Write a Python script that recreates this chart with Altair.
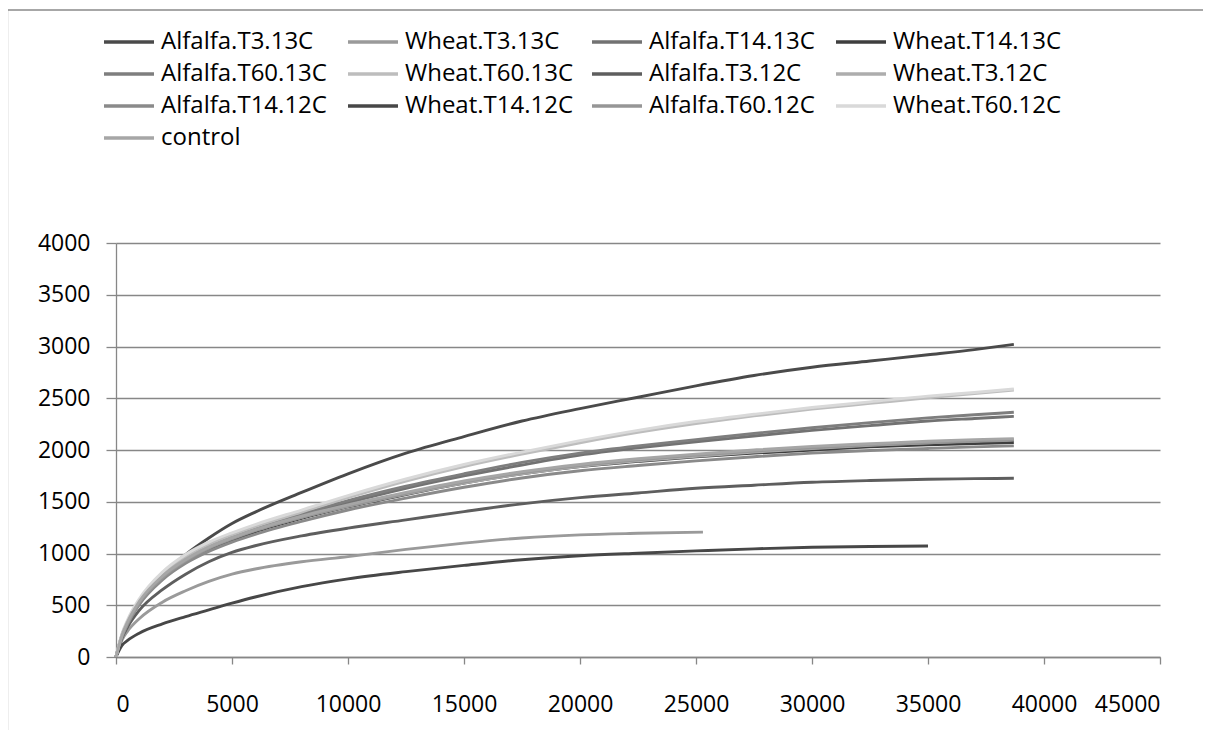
import altair as alt
import pandas as pd

# ---- data ----
series = ["Alfalfa.T3.13C", "Wheat.T3.13C", "Alfalfa.T14.13C", "Wheat.T14.13C",
          "Alfalfa.T60.13C", "Wheat.T60.13C", "Alfalfa.T3.12C", "Wheat.T3.12C",
          "Alfalfa.T14.12C", "Wheat.T14.12C", "Alfalfa.T60.12C", "Wheat.T60.12C",
          "control"]

colors = ["#4a4a4a", "#9a9a9a", "#727272", "#3e3e3e",
          "#7e7e7e", "#bdbdbd", "#5e5e5e", "#adadad",
          "#8a8a8a", "#474747", "#969696", "#d9d9d9",
          "#a6a6a6"]

x_full = [0, 250, 500, 1000, 2000, 3000, 4000, 5000, 6000, 8000, 10000, 12500,
          15000, 17500, 20000, 22500, 25000, 27500, 30000, 32500, 35000, 37000, 38700]
x_wheat_t3_13 = [0, 250, 500, 1000, 2000, 3000, 4000, 5000, 6000, 8000, 10000,
                 12500, 15000, 17500, 20000, 22500, 25300]
x_wheat_t14_12 = [0, 250, 500, 1000, 2000, 3000, 4000, 5000, 6000, 8000, 10000,
                  12500, 15000, 17500, 20000, 22500, 25000, 27500, 30000, 32500, 35000]

alfalfa_t3_13 = [0, 190, 320, 520, 800, 990, 1150, 1290, 1400, 1590, 1770, 1970,
                 2130, 2280, 2400, 2510, 2620, 2720, 2800, 2860, 2920, 2970, 3020]
wheat_t3_13 = [0, 160, 250, 370, 530, 640, 730, 800, 850, 920, 970, 1040,
               1100, 1150, 1180, 1195, 1207]
alfalfa_t14_13 = [0, 200, 330, 525, 770, 935, 1055, 1145, 1225, 1365, 1490, 1630,
                  1750, 1855, 1950, 2020, 2080, 2135, 2190, 2235, 2280, 2305, 2325]
wheat_t14_13 = [0, 200, 330, 520, 760, 920, 1040, 1130, 1210, 1340, 1450, 1570,
                1680, 1770, 1840, 1890, 1935, 1970, 2000, 2030, 2050, 2062, 2072]
alfalfa_t60_13 = [0, 205, 340, 535, 785, 950, 1070, 1160, 1240, 1380, 1510, 1650,
                  1770, 1880, 1970, 2040, 2100, 2160, 2215, 2265, 2310, 2340, 2365]
wheat_t60_13 = [0, 210, 345, 545, 800, 970, 1090, 1180, 1260, 1400, 1540, 1700,
                1840, 1960, 2070, 2170, 2255, 2330, 2395, 2450, 2505, 2545, 2580]
alfalfa_t3_12 = [0, 180, 290, 450, 650, 800, 920, 1010, 1075, 1170, 1245, 1325,
                 1405, 1480, 1540, 1585, 1630, 1660, 1688, 1705, 1717, 1723, 1727]
wheat_t3_12 = [0, 210, 345, 540, 785, 945, 1060, 1150, 1225, 1350, 1455, 1575,
               1680, 1770, 1840, 1895, 1940, 1980, 2015, 2045, 2070, 2088, 2100]
alfalfa_t14_12 = [0, 190, 315, 505, 745, 905, 1020, 1110, 1185, 1310, 1420, 1535,
                  1640, 1730, 1800, 1850, 1895, 1935, 1970, 1995, 2015, 2030, 2040]
wheat_t14_12 = [0, 110, 160, 230, 320, 390, 455, 520, 580, 680, 755, 825,
                885, 940, 978, 1003, 1025, 1045, 1060, 1068, 1072]
alfalfa_t60_12 = [0, 195, 325, 520, 765, 930, 1050, 1140, 1220, 1350, 1460, 1580,
                  1690, 1780, 1850, 1905, 1950, 1990, 2020, 2050, 2070, 2085, 2095]
wheat_t60_12 = [0, 220, 360, 560, 820, 990, 1110, 1200, 1280, 1420, 1560, 1720,
                1860, 1980, 2090, 2190, 2275, 2345, 2410, 2465, 2520, 2555, 2590]
control = [0, 205, 340, 535, 780, 940, 1060, 1150, 1230, 1360, 1470, 1590,
           1700, 1790, 1860, 1915, 1960, 2000, 2035, 2060, 2085, 2100, 2110]

y_ticks = [0, 500, 1000, 1500, 2000, 2500, 3000, 3500, 4000]
x_ticks = [0, 5000, 10000, 15000, 20000, 25000, 30000, 35000, 40000, 45000]

values_by_series = {
    "Alfalfa.T3.13C": (x_full, alfalfa_t3_13),
    "Wheat.T3.13C": (x_wheat_t3_13, wheat_t3_13),
    "Alfalfa.T14.13C": (x_full, alfalfa_t14_13),
    "Wheat.T14.13C": (x_full, wheat_t14_13),
    "Alfalfa.T60.13C": (x_full, alfalfa_t60_13),
    "Wheat.T60.13C": (x_full, wheat_t60_13),
    "Alfalfa.T3.12C": (x_full, alfalfa_t3_12),
    "Wheat.T3.12C": (x_full, wheat_t3_12),
    "Alfalfa.T14.12C": (x_full, alfalfa_t14_12),
    "Wheat.T14.12C": (x_wheat_t14_12, wheat_t14_12),
    "Alfalfa.T60.12C": (x_full, alfalfa_t60_12),
    "Wheat.T60.12C": (x_full, wheat_t60_12),
    "control": (x_full, control),
}

rows = []
for i, name in enumerate(series):
    xs, ys = values_by_series[name]
    for xv, yv in zip(xs, ys):
        rows.append({"series": name, "order": i, "x": xv, "y": yv})
df = pd.DataFrame(rows)

FONT = "Open Sans"
GRID = "#878787"

lines = alt.Chart(df).mark_line(strokeWidth=2.9, interpolate="monotone").encode(
    x=alt.X("x:Q", scale=alt.Scale(domain=[0, 45000], nice=False),
            axis=alt.Axis(values=x_ticks, title=None, grid=False, tickSize=7,
                          labelPadding=29, format="d")),
    y=alt.Y("y:Q", scale=alt.Scale(domain=[0, 4000], nice=False),
            axis=alt.Axis(values=y_ticks, title=None, grid=True, tickSize=10,
                          labelPadding=16, format="d")),
    color=alt.Color("series:N", sort=series,
                    scale=alt.Scale(domain=series, range=colors),
                    legend=alt.Legend(title=None, orient="none", legendX=1,
                                      legendY=-213, columns=4, direction="horizontal",
                                      symbolType="M-2.5,0H2.5", symbolSize=400,
                                      symbolStrokeWidth=3.5, labelOffset=20,
                                      columnPadding=11, rowPadding=8,
                                      gridAlign="all", padding=0,
                                      labelFontSize=24, labelFont=FONT,
                                      labelColor="#000000", labelLimit=400)),
    detail="series:N",
    order="order:Q",
)

frame_data = alt.Data(values=[{"k": 1}])
left_border = alt.Chart(frame_data).mark_rule(
    color="#8a8a8a", strokeWidth=1.3, clip=False).encode(
    x=alt.value(-108.5), x2=alt.value(-108.5), y=alt.value(-233), y2=alt.value(500))
top_border = alt.Chart(frame_data).mark_rule(
    color="#8a8a8a", strokeWidth=1.3, clip=False).encode(
    x=alt.value(-108.5), x2=alt.value(1100), y=alt.value(-233), y2=alt.value(-233))

chart = alt.layer(left_border, top_border, lines).properties(
    width=1044, height=414,
    autosize=alt.AutoSizeParams(type="none"),
    padding={"left": 108, "top": 235, "right": 43, "bottom": 73},
).configure_view(stroke=None).configure_axis(
    domainColor=GRID, domainWidth=1.3, tickColor=GRID, tickWidth=1.3,
    gridColor=GRID, gridWidth=1.3, gridOpacity=1,
    labelFont=FONT, labelFontSize=23, labelColor="#000000",
)

chart.save("out.html", embed_options={"renderer": "svg", "actions": False})
